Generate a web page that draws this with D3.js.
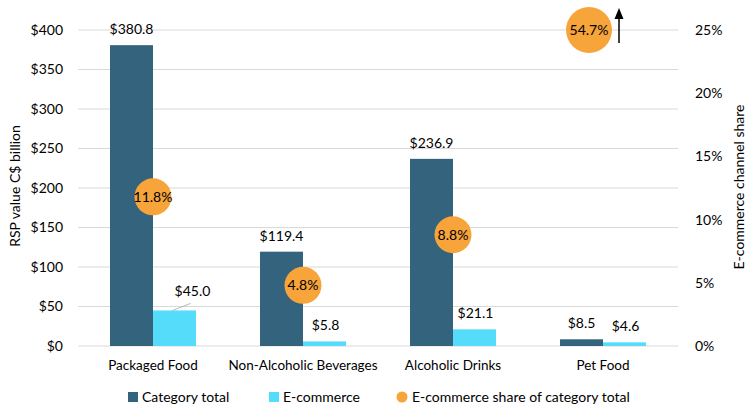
<!DOCTYPE html>
<html><head><meta charset="utf-8">
<script src="https://cdn.jsdelivr.net/npm/d3@7"></script>
<style>
body{margin:0;background:#fff;}
text{font-family:Lato,"Open Sans",sans-serif;fill:#000;}
</style></head><body>
<svg id="chart" width="751" height="417"></svg>
<script>
const categories = ["Packaged Food","Non-Alcoholic Beverages","Alcoholic Drinks","Pet Food"];
const categoryTotal = [380.8,119.4,236.9,8.5];
const ecommerce = [45.0,5.8,21.1,4.6];
const ecomShare = [11.8,4.8,8.8,54.7];
const leftTicks = [0,50,100,150,200,250,300,350,400];
const rightTicks = [0,5,10,15,20,25];
const seriesNames = ["Category total","E-commerce","E-commerce share of category total"];

const colors = {total:"#33637D", ecom:"#55DCFA", share:"#F7A43B", grid:"#D9D9D9"};
const svg = d3.select("#chart");
const x0 = 78, x1 = 678, yTop = 30, yBot = 346;

const x = d3.scaleBand().domain(categories).range([x0,x1]);
const xs = d3.scaleBand().domain(["total","ecom"]).range([0,86]);
const y = d3.scaleLinear().domain([0,400]).range([yBot,yTop]);
const yr = d3.scaleLinear().domain([0,25]).range([yBot,yTop]);
const fs = 14;

// gridlines
svg.append("g").selectAll("line").data(leftTicks).join("line")
  .attr("x1",x0).attr("x2",x1).attr("y1",d=>y(d)).attr("y2",d=>y(d))
  .attr("stroke",colors.grid).attr("stroke-width",1);

// left axis labels
const yAxis = d3.axisLeft(y).tickValues(leftTicks).tickFormat(d=>"$"+d).tickSize(0).tickPadding(0);
const gy = svg.append("g").attr("transform",`translate(63,0)`).call(yAxis);
gy.select(".domain").remove();
gy.selectAll("text").attr("font-size",fs).attr("font-family","Lato").attr("fill","#000");

const yrAxis = d3.axisRight(yr).tickValues(rightTicks).tickFormat(d=>d+"%").tickSize(0).tickPadding(0);
const gyr = svg.append("g").attr("transform",`translate(695,0)`).call(yrAxis);
gyr.select(".domain").remove();
gyr.selectAll("text").attr("font-size",fs).attr("font-family","Lato").attr("fill","#000");

// x labels
const xAxis = d3.axisBottom(x).tickSize(0).tickPadding(0);
const gx = svg.append("g").attr("transform",`translate(0,${yBot+14})`).call(xAxis);
gx.select(".domain").remove();
gx.selectAll("text").attr("font-size",fs-0.5).attr("font-family","Lato").attr("fill","#000");

// bars
const groupOff = d => x(d) + (x.bandwidth()-86)/2;
const bars = svg.append("g");
categories.forEach((c,i)=>{
  const gx0 = groupOff(c);
  bars.append("rect").attr("x",gx0+xs("total")).attr("width",xs.bandwidth())
    .attr("y",y(categoryTotal[i])).attr("height",yBot-y(categoryTotal[i])).attr("fill",colors.total);
  bars.append("rect").attr("x",gx0+xs("ecom")).attr("width",xs.bandwidth())
    .attr("y",y(ecommerce[i])).attr("height",yBot-y(ecommerce[i])).attr("fill",colors.ecom);
  bars.append("text").attr("x",gx0+xs("total")+xs.bandwidth()/2).attr("y",y(categoryTotal[i])-11)
    .attr("text-anchor","middle").attr("font-size",fs).text("$"+categoryTotal[i].toFixed(1));
  const ex = gx0+xs("ecom")+xs.bandwidth()/2;
  if (i===0){
    bars.append("line").attr("x1",ex-2).attr("y1",y(ecommerce[i])).attr("x2",ex+16).attr("y2",y(ecommerce[i])-7)
      .attr("stroke","#A6A6A6").attr("stroke-width",0.8);
    bars.append("text").attr("x",ex+18).attr("y",y(ecommerce[i])-14)
      .attr("text-anchor","middle").attr("font-size",fs).text("$"+ecommerce[i].toFixed(1));
  } else {
    bars.append("text").attr("x",ex+1).attr("y",y(ecommerce[i])-11)
      .attr("text-anchor","middle").attr("font-size",fs).text("$"+ecommerce[i].toFixed(1));
  }
});

// share bubbles
const maxShare = yr.domain()[1];
const bub = svg.append("g");
categories.forEach((c,i)=>{
  const over = ecomShare[i] > maxShare;
  const cx = x(c)+x.bandwidth()/2 + (over ? -14 : 0);
  const cy = yr(Math.min(ecomShare[i],maxShare));
  const r = over ? 23 : 18.5;
  bub.append("circle").attr("cx",cx).attr("cy",cy).attr("r",r).attr("fill",colors.share);
  bub.append("text").attr("x",cx).attr("y",cy+5).attr("text-anchor","middle").attr("font-size",fs)
    .text(ecomShare[i].toFixed(1)+"%");
  if (over){
    const ax = x(c)+x.bandwidth()/2+16;
    bub.append("line").attr("x1",ax).attr("x2",ax).attr("y1",cy+13).attr("y2",cy-12)
      .attr("stroke","#000").attr("stroke-width",1.5);
    bub.append("path").attr("d",`M${ax-4.5},${cy-11} L${ax},${cy-22} L${ax+4.5},${cy-11} Z`).attr("fill","#000");
  }
});

// axis titles
svg.append("text").attr("transform","translate(20,186) rotate(-90)").attr("text-anchor","middle")
  .attr("font-size",fs).text("RSP value C$ billion");
svg.append("text").attr("transform","translate(744,187) rotate(-90)").attr("text-anchor","middle")
  .attr("font-size",fs).text("E-commerce channel share");

// legend
const leg = svg.append("g");
const ly = 397;
leg.append("rect").attr("x",128).attr("y",ly-5).attr("width",10).attr("height",10).attr("fill",colors.total);
leg.append("text").attr("x",142).attr("y",ly+5).attr("font-size",fs).text(seriesNames[0]);
leg.append("rect").attr("x",269).attr("y",ly-5).attr("width",10).attr("height",10).attr("fill",colors.ecom);
leg.append("text").attr("x",283).attr("y",ly+5).attr("font-size",fs).text(seriesNames[1]);
leg.append("circle").attr("cx",402).attr("cy",ly).attr("r",5.5).attr("fill",colors.share);
leg.append("text").attr("x",412).attr("y",ly+5).attr("font-size",fs).text(seriesNames[2]);
</script></body></html>
